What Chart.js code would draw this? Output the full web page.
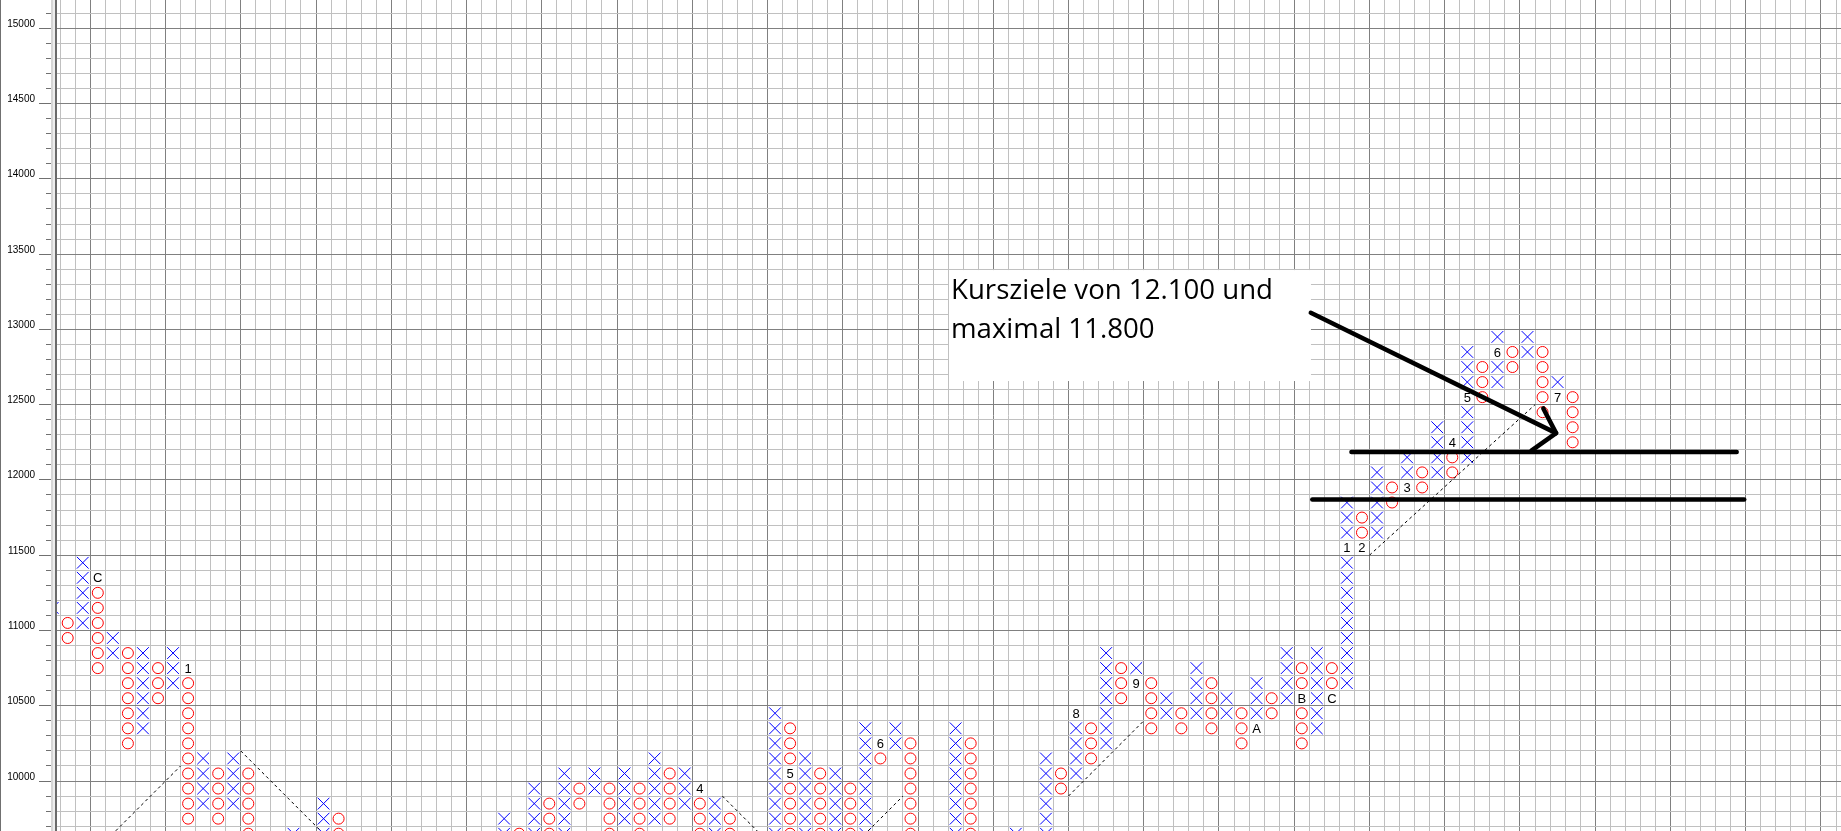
<!DOCTYPE html>
<html>
<head>
<meta charset="utf-8">
<script src="https://cdn.jsdelivr.net/npm/chart.js@4.4.1/dist/chart.umd.min.js"></script>
<style>
  html, body { margin: 0; padding: 0; background: #fff; overflow: hidden; }
  canvas { display: block; }
</style>
</head>
<body>
<canvas id="pnf" width="1841" height="831"></canvas>
<script>
// Point & Figure columns, box size 100.
// column number, X or O, lowest box, highest box (box value = lower edge)
const colIndex = [-1, 0, 1, 2, 3, 4, 5, 6, 7, 8, 9, 10, 11, 12, 15, 17, 18,
  29, 30, 31, 32, 33, 34, 35, 36, 37, 38, 39, 40, 41, 42, 43, 44,
  47, 48, 49, 50, 51, 52, 53, 54, 55, 56, 59, 60, 63, 65, 66,
  67, 68, 69, 70, 71, 72, 73, 74, 75, 76, 77, 78, 79, 80, 81, 82, 83, 84,
  85, 86, 87, 88, 89, 90, 91, 92, 93, 94, 95, 96, 97, 98, 99, 100];
const colType = ['X', 'O', 'X', 'O', 'X', 'O', 'X', 'O', 'X', 'O', 'X', 'O', 'X', 'O', 'X', 'X', 'O',
  'X', 'O', 'X', 'O', 'X', 'O', 'X', 'O', 'X', 'O', 'X', 'O', 'X', 'O', 'X', 'O',
  'X', 'O', 'X', 'O', 'X', 'O', 'X', 'O', 'X', 'O', 'X', 'O', 'X', 'X', 'O',
  'X', 'O', 'X', 'O', 'X', 'O', 'X', 'O', 'X', 'O', 'X', 'O', 'X', 'O', 'X', 'O', 'X', 'O',
  'X', 'O', 'X', 'O', 'X', 'O', 'X', 'O', 'X', 'O', 'X', 'O', 'X', 'O', 'X', 'O'];
const colLow = [10800, 10900, 11000, 10700, 10800, 10200, 10300, 10500, 10600, 9700, 9800, 9700, 9800, 9600, 9600, 9600, 9600,
  9600, 9600, 9600, 9600, 9600, 9800, 9900, 9600, 9700, 9600, 9700, 9700, 9800, 9600, 9600, 9600,
  9600, 9600, 9600, 9600, 9600, 9600, 9600, 10100, 10200, 9600, 9600, 9600, 9600, 9600, 9900,
  10000, 10100, 10200, 10500, 10600, 10300, 10400, 10300, 10400, 10300, 10400, 10200, 10300, 10400, 10500, 10200, 10300, 10500,
  10600, 11500, 11600, 11800, 11900, 11900, 12000, 12000, 12100, 12500, 12600, 12700, 12800, 12400, 12500, 12200];
const colHigh = [11100, 11000, 11400, 11300, 10900, 10800, 10800, 10700, 10800, 10700, 10100, 10000, 10100, 10000, 9600, 9800, 9700,
  9700, 9600, 9900, 9800, 10000, 9900, 10000, 9900, 10000, 9900, 10100, 10000, 10000, 9900, 9800, 9700,
  10400, 10300, 10100, 10000, 10000, 9900, 10300, 10200, 10300, 10200, 10300, 10200, 9600, 10100, 10000,
  10400, 10300, 10800, 10700, 10700, 10600, 10500, 10400, 10700, 10600, 10500, 10400, 10600, 10500, 10800, 10700, 10800, 10700,
  11800, 11700, 12000, 11900, 12100, 12000, 12300, 12200, 12800, 12700, 12900, 12800, 12900, 12800, 12600, 12500];

// month markers written into a box instead of an X or O
const monthCol = [2, 8, 42, 48, 54, 67, 71, 79, 82, 84, 85, 86, 89, 92, 93, 95, 99];
const monthBox = [11300, 10700, 9900, 10000, 10200, 10400, 10600, 10300, 10500, 10500, 11500, 11500, 11900, 12200, 12500, 12800, 12500];
const monthText = ['C', '1', '4', '5', '6', '8', '9', 'A', 'B', 'C', '1', '2', '3', '4', '5', '6', '7'];

// dashed 45 degree trend lines (column, price)
const trendLines = [
  [[1.5, 9500], [7.5, 10100]],
  [[11.5, 10200], [18.5, 9500]],
  [[43.5, 9900], [47.5, 9500]],
  [[51.5, 9500], [55.5, 9900]],
  [[66.5, 9900], [71.5, 10400]],
  [[86.5, 11500], [97.5, 12500]]
];

// hand drawn target lines and arrow (column, price)
const targetLines = [
  [[82.7, 11870], [111.4, 11870]],
  [[85.3, 12185], [110.9, 12185]]
];
const arrowShaft = [[82.6, 13110], [98.9, 12311]];
const arrowHead = [[98.05, 12475], [98.9, 12311], [97.26, 12195]];

// note box (column range, price range) and its text
const noteBox = { x0: 58.56, x1: 82.61, yTop: 13394, yBottom: 12657 };
const noteLines = ['Kursziele von 12.100 und', 'maximal 11.800'];

// scale ranges and ticks
const yMin = 9668, yMax = 15188;
const xMin = -0.711, xMax = 117.83;
const yTicks = [];
for (let v = 9700; v <= 15100; v += 100) yTicks.push(v);
const xBounds = [];
for (let k = 0; k <= 118; k++) xBounds.push(k - 0.5);

// build X and O marks
const isMonth = (k, b) => monthCol.some((c, i) => c === k && monthBox[i] === b);
const xPts = [], oPts = [];
colIndex.forEach((k, i) => {
  for (let b = colLow[i]; b <= colHigh[i]; b += 100) {
    if (isMonth(k, b)) continue;
    (colType[i] === 'X' ? xPts : oPts).push({ x: k, y: b + 50 });
  }
});

const toPts = arr => arr.map(p => ({ x: p[0], y: p[1] }));
const thick = pts => ({
  type: 'line', data: toPts(pts), showLine: true, borderColor: '#000', borderWidth: 4.5,
  borderCapStyle: 'round', borderJoinStyle: 'round', pointRadius: 0, tension: 0
});

const datasets = [];
targetLines.forEach(l => datasets.push(thick(l)));
datasets.push(thick(arrowShaft));
datasets.push(thick(arrowHead));
trendLines.forEach(l => datasets.push({
  type: 'line', data: toPts(l), showLine: true, borderColor: '#000', borderWidth: 1,
  borderDash: [3, 3], pointRadius: 0, tension: 0
}));
datasets.push({
  data: xPts, pointStyle: 'crossRot', pointRadius: 8.3, pointBorderColor: '#0000ff',
  pointBorderWidth: 1, pointBackgroundColor: 'transparent', showLine: false
});
datasets.push({
  data: oPts, pointStyle: 'circle', pointRadius: 5.5, pointBorderColor: '#ff0000',
  pointBorderWidth: 1, pointBackgroundColor: 'transparent', showLine: false
});

const align = p => Math.round(p - 0.5) + 0.5;

const paperPlugin = {
  id: 'paper',
  beforeDraw(chart) {
    const ctx = chart.ctx;
    ctx.save();
    ctx.fillStyle = '#fff';
    ctx.fillRect(0, 0, chart.width, chart.height);
    ctx.restore();
  },
  beforeDatasetsDraw(chart) {
    const { ctx, scales: { x, y } } = chart;
    ctx.save();
    // note box
    const bx0 = x.getPixelForValue(noteBox.x0), bx1 = x.getPixelForValue(noteBox.x1);
    const by0 = y.getPixelForValue(noteBox.yTop), by1 = y.getPixelForValue(noteBox.yBottom);
    ctx.fillStyle = '#fff';
    ctx.fillRect(bx0, by0, bx1 - bx0, by1 - by0);
    ctx.font = '100px "Open Sans"';
    const size = 100 * 322 / ctx.measureText(noteLines[0]).width;
    ctx.font = size.toFixed(2) + 'px "Open Sans"';
    ctx.fillStyle = '#000';
    ctx.textAlign = 'left';
    ctx.textBaseline = 'alphabetic';
    ctx.fillText(noteLines[0], bx0 + 2, by0 + 29);
    ctx.fillText(noteLines[1], bx0 + 2, by0 + 68);
    // month markers
    ctx.font = '13px "Liberation Sans", Arial, sans-serif';
    ctx.textAlign = 'center';
    ctx.textBaseline = 'middle';
    monthCol.forEach((k, i) => {
      ctx.fillText(monthText[i], x.getPixelForValue(k), y.getPixelForValue(monthBox[i] + 50) + 1);
    });
    ctx.restore();
  },
  afterDraw(chart) {
    const { ctx, scales: { y } } = chart;
    const h = chart.height;
    ctx.save();
    ctx.fillStyle = '#707070';
    ctx.fillRect(0, 0, 1, h);
    ctx.fillStyle = '#d6d6d6';
    ctx.fillRect(51, 0, 2, h);
    ctx.fillStyle = '#ededed';
    ctx.fillRect(53, 0, 2, h);
    ctx.fillStyle = '#6a6a6a';
    ctx.fillRect(55, 0, 2, h);
    ctx.strokeStyle = '#707070';
    ctx.lineWidth = 1;
    ctx.fillStyle = '#000';
    ctx.font = '10px "Liberation Sans", Arial, sans-serif';
    ctx.textAlign = 'right';
    ctx.textBaseline = 'alphabetic';
    y.ticks.forEach(t => {
      const py = align(y.getPixelForValue(t.value));
      const major = t.value % 500 === 0;
      ctx.beginPath();
      ctx.moveTo(major ? 39 : 46, py);
      ctx.lineTo(51, py);
      ctx.stroke();
      if (major && t.value <= 15000) ctx.fillText(String(t.value), 35, py - 2);
    });
    ctx.restore();
  }
};

new Chart(document.getElementById('pnf'), {
  type: 'scatter',
  data: { datasets },
  options: {
    responsive: false,
    animation: false,
    events: [],
    layout: { padding: 0, autoPadding: false },
    plugins: { legend: { display: false }, tooltip: { enabled: false } },
    scales: {
      x: {
        type: 'linear', min: xMin, max: xMax, bounds: 'data',
        afterBuildTicks: s => { s.ticks = xBounds.map(v => ({ value: v })); },
        afterFit: s => { s.height = 0; },
        ticks: { display: false },
        border: { display: false },
        grid: {
          drawTicks: false, lineWidth: 1,
          color: c => ((Math.round(c.tick.value + 0.5) % 5) + 5) % 5 === 2 ? '#808080' : '#c0c0c0'
        }
      },
      y: {
        type: 'linear', min: yMin, max: yMax, bounds: 'data',
        afterBuildTicks: s => { s.ticks = yTicks.map(v => ({ value: v })); },
        afterFit: s => { s.width = 57; },
        ticks: { display: false },
        border: { display: false },
        grid: {
          drawTicks: false, lineWidth: 1,
          color: c => c.tick.value % 500 === 0 ? '#808080' : '#c0c0c0'
        }
      }
    }
  },
  plugins: [paperPlugin]
});
</script>
</body>
</html>
